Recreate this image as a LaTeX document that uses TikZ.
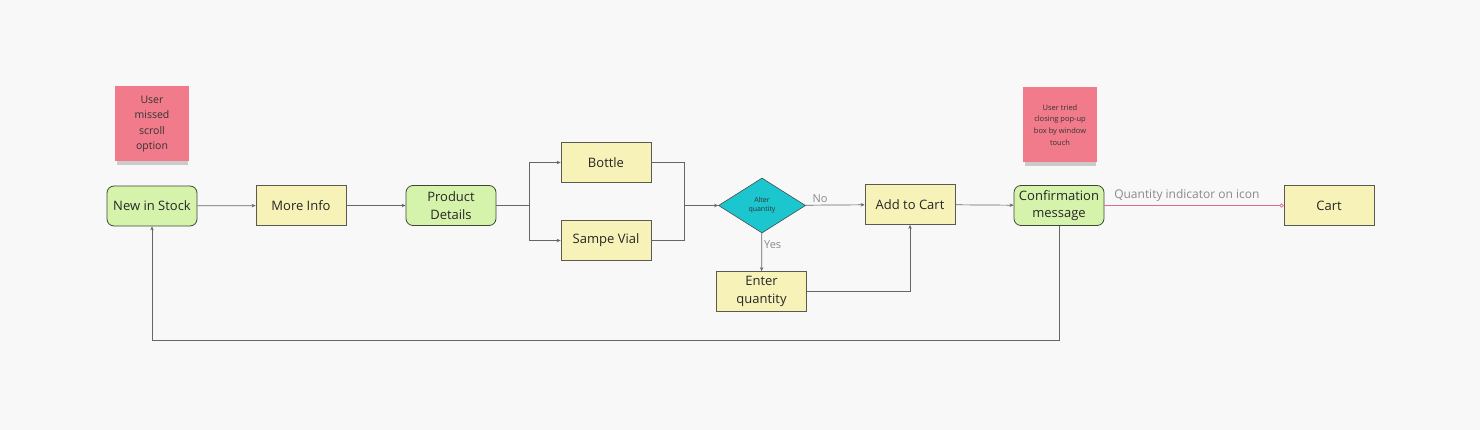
\documentclass[tikz,border=0pt]{standalone}
\usepackage{fontspec}
\setmainfont{Open Sans}
\usetikzlibrary{shapes.geometric,arrows.meta,shadows,calc}
\definecolor{bgc}{HTML}{F8F8F8}
\definecolor{greenf}{HTML}{D6F3AC}
\definecolor{greend}{HTML}{3C4A34}
\definecolor{yellowf}{HTML}{F6F2B8}
\definecolor{yellowd}{HTML}{5A5A50}
\definecolor{cyanf}{HTML}{1CC6CE}
\definecolor{pinkf}{HTML}{F27B8B}
\definecolor{linec}{HTML}{666666}
\definecolor{labc}{HTML}{8A8A8A}
\definecolor{pinkl}{HTML}{E06A8E}
\tikzset{
  greenbox/.style={draw=greend, fill=greenf, rounded corners=7pt, line width=0.8pt, minimum width=90pt, minimum height=40pt, align=center, inner sep=1pt, font=\fontsize{13}{17.5}\selectfont, text=black!85},
  yellowbox/.style={draw=yellowd, fill=yellowf, line width=0.8pt, minimum width=90pt, minimum height=40pt, align=center, inner sep=1pt, font=\fontsize{13}{17.5}\selectfont, text=black!85},
  sticky/.style={fill=pinkf, minimum width=74pt, minimum height=75pt, align=center, inner sep=1pt, text=black!80,
     drop shadow={shadow xshift=1pt, shadow yshift=-5pt, shadow scale=0.96, opacity=0.18, fill=black}},
  decision/.style={diamond, draw=black!70, fill=cyanf, line width=0.6pt, minimum width=87pt, minimum height=55pt, inner sep=0pt, align=center, font=\fontsize{7}{9}\selectfont, text=black!80},
  conn/.style={draw=linec, line width=0.7pt, -{Stealth[length=4pt,width=3.5pt]}},
  plain/.style={draw=linec, line width=0.7pt},
  lab/.style={text=labc, font=\fontsize{11}{13}\selectfont, inner sep=1pt},
}
\begin{document}
\begin{tikzpicture}[x=1pt,y=-1pt]
\fill[bgc] (0,0) rectangle (1480,430);
\useasboundingbox (0,0) rectangle (1480,430);

\node[sticky, font=\fontsize{10.5}{15.3}\selectfont] (s1) at (152,124) {User\\missed\\scroll\\option};
\node[sticky, font=\fontsize{7.5}{11.8}\selectfont] (s2) at (1060,125) {User tried\\closing pop-up\\box by window\\touch};

\node[greenbox] (nis) at (152,206) {New in Stock};
\node[yellowbox] (mi) at (301,205.5) {More Info};
\node[greenbox] (pd) at (451,205.5) {Product\\Details};
\node[yellowbox] (bt) at (606,162.5) {Bottle};
\node[yellowbox] (sv) at (606,240.5) {Sampe Vial};
\node[decision] (aq) at (762,205.5) {Alter\\quantity};
\node[yellowbox] (ac) at (910,204.5) {Add to Cart};
\node[yellowbox] (eq) at (761.5,291.5) {Enter\\quantity};
\node[greenbox] (cm) at (1059,205.5) {Confirmation\\message};
\node[yellowbox] (ct) at (1329,205.5) {Cart};

\coordinate (j1) at (529,205.5);
\coordinate (j2) at (684,205.5);

\draw[conn] (nis) -- (mi);
\draw[conn] (mi) -- (pd);
\draw[plain] (pd) -- (j1);
\draw[conn] (j1) |- (bt);
\draw[conn] (j1) |- (sv);
\draw[plain] (bt) -| (j2);
\draw[plain] (sv) -| (j2);
\draw[conn] (j2) -- (aq);
\draw[conn] (aq) -- node[lab, pos=0.25, above=1pt] {No} (ac);
\draw[conn] (aq) -- node[lab, pos=0.3, right=1pt] {Yes} (eq);
\draw[conn] (eq) -| (ac);
\draw[conn] (ac) -- (cm);
\draw[conn] (cm.south) -- ++(0,114) -| (nis.south);
\draw[draw=pinkl, line width=0.7pt, -{Circle[open,length=4pt,width=4pt]}] (cm) -- node[lab, pos=0.46, above=3pt, font=\fontsize{12}{14}\selectfont] {Quantity indicator on icon} (ct);
\end{tikzpicture}
\end{document}
